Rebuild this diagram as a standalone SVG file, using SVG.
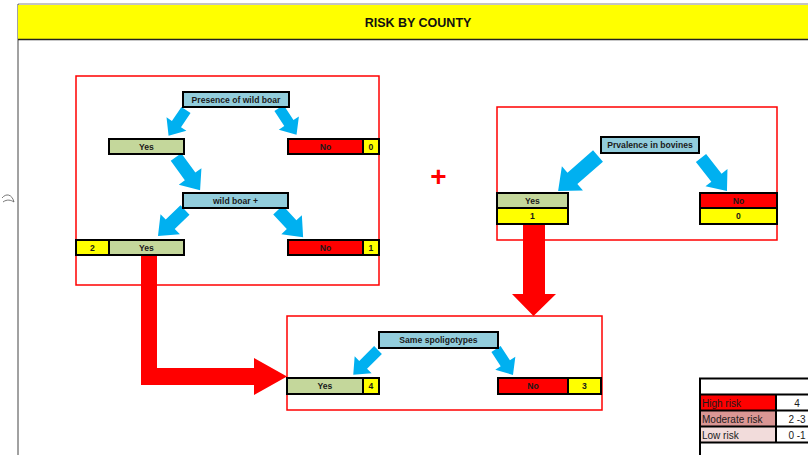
<svg xmlns="http://www.w3.org/2000/svg" width="808" height="455" viewBox="0 0 808 455">
<style>
.frame{fill:none;stroke:#FF0000;stroke-width:1.5}
.cell{stroke:#000;stroke-width:2}
.q{fill:#92CDDC}
.g{fill:#C4D79B}
.r{fill:#FF0000}
.y{fill:#FFFF00}
.lbl{font-family:"Liberation Sans",Arial,sans-serif;font-weight:bold;font-size:8.6px;fill:#1a1a1a;text-anchor:middle}
.leg{font-family:"Liberation Sans",Arial,sans-serif;font-size:10px;fill:#1a1a1a}
.blue{fill:#00B0F0}
.red{fill:#FF0000}
.ln{stroke:#000;stroke-width:2;fill:none}
</style>
<rect x="0" y="0" width="808" height="455" fill="#fff"/>
<g id="sheet">
<line x1="18" y1="4" x2="808" y2="4" stroke="#888" stroke-width="1"/>
<line x1="18" y1="4" x2="18" y2="455" stroke="#444" stroke-width="1"/>
<path d="M2,198 C6,193 12,194 14,202 C11,200 7,199 3,202" fill="none" stroke="#555" stroke-width="0.8"/>
</g>
<g id="title">
<rect x="18" y="5" width="790" height="34" fill="#FFFF00"/>
<line x1="18" y1="39.5" x2="808" y2="39.5" stroke="#222" stroke-width="1.5"/>
<text x="418" y="26.5" font-family="'Liberation Sans',Arial,sans-serif" font-weight="bold" font-size="12.5" fill="#111" text-anchor="middle">RISK BY COUNTY</text>
</g>
<g id="frames">
<rect class="frame" x="76" y="76" width="303" height="209"/>
<rect class="frame" x="497" y="107" width="280" height="133"/>
<rect class="frame" x="287" y="316" width="315" height="94"/>
</g>
<g id="connectors">
<path class="red" d="M141,255 H157 V368 H254 V358 L287,376.5 L254,395 V385 H141 Z"/>
<path class="red" d="M523,224 H545 V294 H556 L533.5,316 L512,294 H523 Z"/>
<path class="blue" transform="translate(186,110) rotate(124.2)" d="M0,-5.5 H17 V-12 L31,0 L17,12 V5.5 H0 Z"/>
<path class="blue" transform="translate(279,108) rotate(56.8)" d="M0,-5.5 H18 V-12 L32,0 L18,12 V5.5 H0 Z"/>
<path class="blue" transform="translate(176,157) rotate(54)" d="M0,-6.5 H24 V-14 L41,0 L24,14 V6.5 H0 Z"/>
<path class="blue" transform="translate(185,210) rotate(136.1)" d="M0,-6.5 H20.5 V-14 L37.5,0 L20.5,14 V6.5 H0 Z"/>
<path class="blue" transform="translate(278,210) rotate(47.2)" d="M0,-6.5 H20 V-14 L37,0 L20,14 V6.5 H0 Z"/>
<path class="blue" transform="translate(598,156) rotate(138.8)" d="M0,-7.5 H34 V-16 L53,0 L34,16 V7.5 H0 Z"/>
<path class="blue" transform="translate(701,158) rotate(51.8)" d="M0,-6.5 H25 V-14 L42,0 L25,14 V6.5 H0 Z"/>
<path class="blue" transform="translate(378,350) rotate(135)" d="M0,-5.5 H21 V-12 L35,0 L21,12 V5.5 H0 Z"/>
<path class="blue" transform="translate(496,349) rotate(56.8)" d="M0,-5.5 H17 V-12 L31,0 L17,12 V5.5 H0 Z"/>
</g>
<g id="presence">
<rect class="cell q" x="183" y="92" width="106" height="15"/>
<text class="lbl" x="236" y="102.8">Presence of wild boar</text>
</g>
<g id="yes1">
<rect class="cell g" x="109" y="139" width="75" height="15"/>
<text class="lbl" x="146.5" y="149.8">Yes</text>
</g>
<g id="no1">
<rect class="cell r" x="288" y="139" width="75" height="15"/>
<text class="lbl" x="325.5" y="149.8">No</text>
<rect class="cell y" x="363" y="139" width="16" height="15"/>
<text class="lbl" x="371" y="149.8">0</text>
</g>
<g id="wildboar">
<rect class="cell q" x="183" y="193" width="105" height="15"/>
<text class="lbl" x="235.5" y="203.8">wild boar +</text>
</g>
<g id="yes2">
<rect class="cell y" x="76" y="240" width="33" height="15"/>
<text class="lbl" x="92.5" y="250.8">2</text>
<rect class="cell g" x="109" y="240" width="75" height="15"/>
<text class="lbl" x="146.5" y="250.8">Yes</text>
</g>
<g id="no2">
<rect class="cell r" x="288" y="240" width="75" height="15"/>
<text class="lbl" x="325.5" y="250.8">No</text>
<rect class="cell y" x="363" y="240" width="16" height="15"/>
<text class="lbl" x="371" y="250.8">1</text>
</g>
<g id="plus">
<text x="438.5" y="185.5" font-family="'Liberation Sans',Arial,sans-serif" font-weight="bold" font-size="28" fill="#FF0000" text-anchor="middle">+</text>
</g>
<g id="bovines">
<rect class="cell q" x="601" y="137" width="98" height="16"/>
<text class="lbl" x="650" y="148.3">Prvalence in bovines</text>
</g>
<g id="yes3">
<rect class="cell g" x="497" y="193" width="71" height="15"/>
<text class="lbl" x="532.5" y="203.8">Yes</text>
<rect class="cell y" x="497" y="208" width="71" height="16"/>
<text class="lbl" x="532.5" y="219.3">1</text>
</g>
<g id="no3">
<rect class="cell r" x="700" y="193" width="77" height="15"/>
<text class="lbl" x="738.5" y="203.8">No</text>
<rect class="cell y" x="700" y="208" width="77" height="16"/>
<text class="lbl" x="738.5" y="219.3">0</text>
</g>
<g id="spoligo">
<rect class="cell q" x="379" y="332" width="119" height="16"/>
<text class="lbl" x="438.5" y="343.3">Same spoligotypes</text>
</g>
<g id="yes4">
<rect class="cell g" x="287" y="378" width="76" height="16"/>
<text class="lbl" x="325" y="389.3">Yes</text>
<rect class="cell y" x="363" y="378" width="16" height="16"/>
<text class="lbl" x="371" y="389.3">4</text>
</g>
<g id="no4">
<rect class="cell r" x="498" y="378" width="70" height="16"/>
<text class="lbl" x="533" y="389.3">No</text>
<rect class="cell y" x="568" y="378" width="33" height="16"/>
<text class="lbl" x="584.5" y="389.3">3</text>
</g>
<g id="legend">
<rect x="700" y="378" width="108" height="77" fill="#fff"/>
<rect x="700" y="394.5" width="76" height="16" fill="#FF0000"/>
<rect x="700" y="410.5" width="76" height="16" fill="#DA9694"/>
<rect x="700" y="426.5" width="76" height="16" fill="#F2DCDB"/>
<path class="ln" d="M700,455 V378.5 H808 M700,394.5 H808 M700,410.5 H808 M700,426.5 H808 M700,442.5 H808 M776,394.5 V442.5"/>
<text class="leg" x="702" y="406.5">High risk</text>
<text class="leg" x="702" y="422.5">Moderate risk</text>
<text class="leg" x="702" y="438.5">Low risk</text>
<text class="leg" x="797" y="406.5" text-anchor="middle">4</text>
<text class="leg" x="797" y="422.5" text-anchor="middle">2 -3</text>
<text class="leg" x="797" y="438.5" text-anchor="middle">0 -1</text>
</g>
</svg>
